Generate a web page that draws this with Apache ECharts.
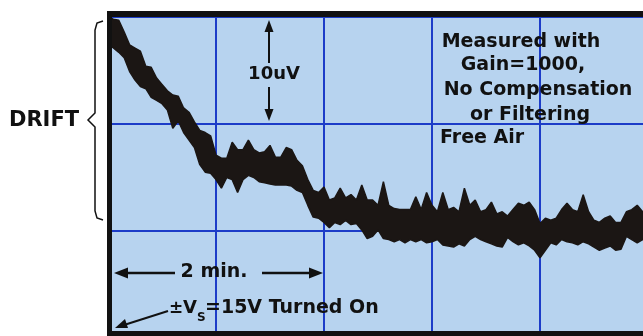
<!DOCTYPE html>
<html lang="en">
<head>
    <meta charset="utf-8" />
    <title>Drift after power on</title>
    <script src="https://cdn.jsdelivr.net/npm/echarts@6/dist/echarts.min.js"></script>
    <style>
        html, body { margin: 0; padding: 0; background: #ffffff; }
        #drift_chart { width: 643px; height: 336px; }
    </style>
</head>
<body>
    <div id="drift_chart"></div>
<script>
    // time in minutes (1 division = 1 min)
    var minutes = [
        '0.00','0.05','0.10','0.15','0.20','0.25','0.30','0.35','0.40','0.45',
        '0.50','0.55','0.60','0.65','0.70','0.75','0.80','0.85','0.90','0.95',
        '1.00','1.05','1.10','1.15','1.20','1.25','1.30','1.35','1.40','1.45',
        '1.50','1.55','1.60','1.65','1.70','1.75','1.80','1.85','1.90','1.95',
        '2.00','2.05','2.10','2.15','2.20','2.25','2.30','2.35','2.40','2.45',
        '2.50','2.55','2.60','2.65','2.70','2.75','2.80','2.85','2.90','2.95',
        '3.00','3.05','3.10','3.15','3.20','3.25','3.30','3.35','3.40','3.45',
        '3.50','3.55','3.60','3.65','3.70','3.75','3.80','3.85','3.90','3.95',
        '4.00','4.05','4.10','4.15','4.20','4.25','4.30','4.35','4.40','4.45',
        '4.50','4.55','4.60','4.65','4.70','4.75','4.80','4.85','4.90','4.95',
        '5.00'
    ];
    // upper edge of the noisy trace, uV (10 uV per division)
    var upperTrace = [
        30.0,
        29.8, 29.7, 28.6, 27.4, 27.1, 26.8, 25.4, 25.3, 24.3, 23.7,
        23.1, 22.7, 22.6, 21.5, 21.1, 20.2, 19.4, 19.2, 18.9, 17.1,
        16.8, 16.8, 18.3, 17.6, 17.6, 18.5, 17.6, 17.3, 17.4, 18.0,
        16.9, 16.9, 17.8, 17.6, 16.6, 16.1, 14.8, 13.8, 13.6, 14.1,
        12.9, 13.1, 14.0, 13.1, 13.4, 12.9, 14.3, 12.9, 12.9, 12.4,
        14.6, 12.4, 12.1, 12.0, 12.0, 12.0, 13.2, 12.0, 13.6, 12.4,
        11.8, 13.6, 12.0, 12.2, 11.8, 14.0, 12.4, 12.9, 11.8, 12.0,
        12.7, 11.6, 11.8, 11.4, 12.0, 12.6, 12.4, 12.7, 12.0, 10.7,
        11.2, 11.0, 11.2, 12.0, 12.6, 12.0, 11.8, 13.4, 11.8, 11.0,
        10.8, 11.2, 11.4, 10.8, 10.8, 11.8, 12.0, 12.4, 11.8,
        11.8
    ];
    // lower edge of the noisy trace, uV
    var lowerTrace = [
        27.5,
        27.1, 26.7, 26.2, 24.9, 24.1, 23.5, 23.3, 22.5, 22.2, 21.9,
        21.3, 19.6, 20.3, 19.2, 18.5, 17.8, 16.2, 15.5, 15.4, 14.8,
        14.0, 15.0, 14.8, 13.6, 14.8, 15.2, 15.0, 14.6, 14.5, 14.4,
        14.3, 14.3, 14.3, 14.2, 13.8, 13.6, 12.4, 11.3, 11.2, 10.8,
        10.3, 10.8, 10.6, 11.0, 10.6, 10.7, 10.1, 9.3, 9.5, 10.1,
        9.3, 9.2, 9.0, 9.2, 8.9, 9.2, 9.0, 9.2, 8.9, 9.0,
        9.2, 8.7, 8.6, 8.5, 8.8, 8.6, 9.2, 9.5, 9.2, 9.0,
        8.8, 8.6, 8.5, 9.4, 9.0, 8.7, 8.9, 8.6, 8.2, 7.5,
        8.2, 8.9, 8.7, 9.2, 9.0, 8.9, 8.7, 9.0, 8.8, 8.5,
        8.2, 8.4, 8.6, 8.2, 8.3, 9.5, 9.2, 8.9, 9.2,
        9.0
    ];

    var inkColor = '#1b1614';
    var gridBlue = '#1c3cc8';
    var paperBlue = '#b7d3ef';
    var boldFont = 'DejaVu Sans';

    // band thickness stacked on top of the lower edge
    var bandHeight = upperTrace.map(function (v, i) {
        return +(v - lowerTrace[i]).toFixed(2);
    });

    function label(text, x, y, size, align) {
        return {
            type: 'text', z: 100,
            style: {
                text: text, x: x, y: y,
                fill: '#111', fontSize: size, fontWeight: 'bold', fontFamily: boldFont,
                textAlign: align || 'left', textVerticalAlign: 'middle'
            }
        };
    }
    function stroke(points, w) {
        return { type: 'polyline', z: 100, shape: { points: points }, style: { stroke: '#111', lineWidth: w || 2, fill: null } };
    }
    function head(points) {
        return { type: 'polygon', z: 100, shape: { points: points }, style: { fill: '#111' } };
    }

    var my_chart = echarts.init(document.getElementById('drift_chart'));
    my_chart.setOption({
        animation: false,
        backgroundColor: '#ffffff',
        grid: {
            left: 108, top: 17, width: 540, height: 321,
            outerBoundsMode: 'none',
            show: true, backgroundColor: paperBlue, borderWidth: 0
        },
        xAxis: {
            type: 'category',
            data: minutes,
            boundaryGap: false,
            axisLine: { show: false },
            axisTick: { show: false },
            axisLabel: { show: false },
            splitLine: { show: true, interval: 19, lineStyle: { color: gridBlue, width: 2 } }
        },
        yAxis: {
            type: 'value',
            min: 0, max: 30, interval: 10,
            axisLine: { show: false },
            axisTick: { show: false },
            axisLabel: { show: false },
            splitLine: { show: true, lineStyle: { color: gridBlue, width: 2 } }
        },
        series: [
            {
                name: 'lower', type: 'line', stack: 'trace', data: lowerTrace,
                symbol: 'none', lineStyle: { color: inkColor, width: 1.5 }, z: 3
            },
            {
                name: 'band', type: 'line', stack: 'trace', data: bandHeight,
                symbol: 'none', lineStyle: { color: inkColor, width: 1.5 },
                areaStyle: { color: inkColor, opacity: 1 }, z: 3
            }
        ],
        graphic: [
            // black frame of the scope photo
            { type: 'rect', z: 90, shape: { x: 107, y: 11, width: 536, height: 6 }, style: { fill: '#111' } },
            { type: 'rect', z: 90, shape: { x: 107, y: 11, width: 5, height: 325 }, style: { fill: '#111' } },
            { type: 'rect', z: 90, shape: { x: 107, y: 331, width: 536, height: 5 }, style: { fill: '#111' } },
            // drift brace
            label('DRIFT', 9, 121, 21),
            stroke([[103, 21], [97, 23], [95, 30], [95, 113], [88, 120], [95, 127], [95, 211], [97, 218], [103, 220]], 1.5),
            // 10uV scale arrows
            stroke([[269, 28], [269, 63]], 2),
            head([[269, 20], [264.5, 32], [273.5, 32]]),
            label('10uV', 274, 74, 18, 'center'),
            stroke([[269, 87], [269, 112]], 2),
            head([[269, 121], [264.5, 109], [273.5, 109]]),
            // 2 min. arrows
            label('2 min.', 214, 272, 19, 'center'),
            stroke([[124, 273], [175, 273]], 2.5),
            head([[114, 273], [128, 267.5], [128, 278.5]]),
            stroke([[262, 273], [313, 273]], 2.5),
            head([[323, 273], [309, 267.5], [309, 278.5]]),
            // power on marker
            stroke([[168, 311], [124, 325]], 2),
            head([[115, 328], [125, 319], [128, 328]]),
            label('\u00b1', 169, 309, 17),
            label('V', 183, 308, 18),
            label('S', 197, 318, 12),
            label('=15V Turned On', 205, 308, 19),
            // conditions
            label('Measured with', 521, 42, 19, 'center'),
            label('Gain=1000,', 523, 65, 19, 'center'),
            label('No Compensation', 538, 90, 19, 'center'),
            label('or Filtering', 530, 115, 19, 'center'),
            label('Free Air', 440, 138, 19)
        ]
    });
</script>
</body>
</html>
